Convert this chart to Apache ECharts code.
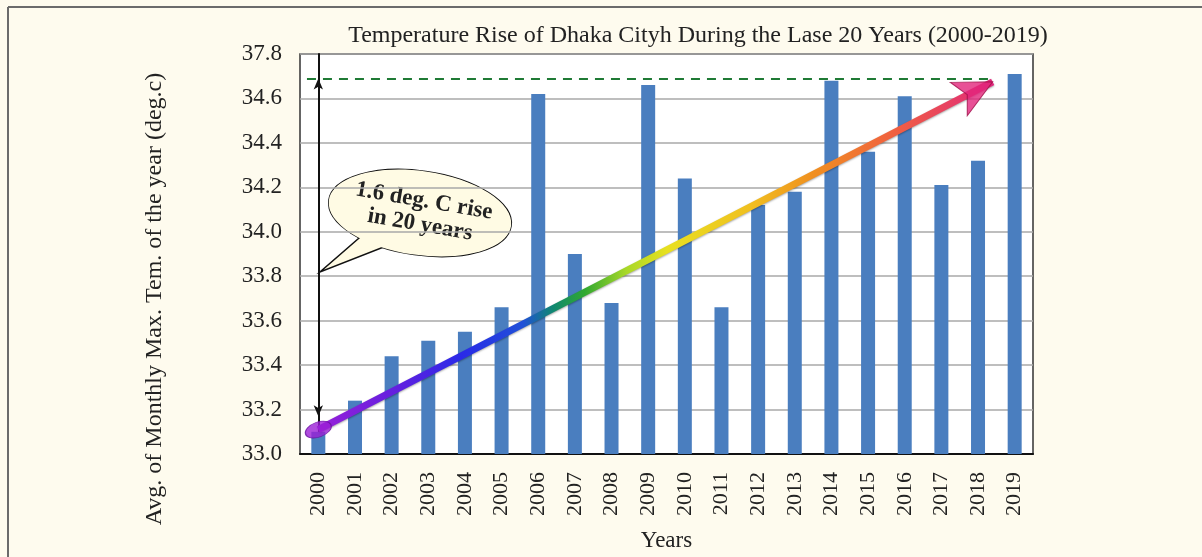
<!DOCTYPE html>
<html>
<head>
<meta charset="utf-8">
<script src="https://cdn.jsdelivr.net/npm/echarts@6/dist/echarts.min.js"></script>
<style>
html,body{margin:0;padding:0;background:#fefbee;overflow:hidden;}
#chart{width:1202px;height:557px;}
</style>
</head>
<body>
<div id="chart"></div>
<script>
const years = ['2000','2001','2002','2003','2004','2005','2006','2007','2008','2009','2010','2011','2012','2013','2014','2015','2016','2017','2018','2019'];
const temps = [33.10,33.24,33.44,33.51,33.55,33.66,34.62,33.90,33.68,34.66,34.24,33.66,34.12,34.18,34.68,34.36,34.61,34.21,34.32,34.71];
const yTickLabels = ['33.0','33.2','33.4','33.6','33.8','34.0','34.2','34.4','34.6','37.8'];
const trendStart = [0, 33.11];
const trendEnd = [18.4, 34.675];
const riseLevel = 34.69;
const riseBottom = 33.17;
const dashedFrom = -0.31;
const dashedTo = 18.46;
const titleText = 'Temperature Rise of Dhaka Cityh During the Lase 20 Years (2000-2019)';
const yName = 'Avg. of Monthly Max. Tem. of the year (deg.c)';
const xName = 'Years';
const bubbleText = '1.6 deg. C rise\nin 20 years';

const FONT = '"Liberation Serif","Times New Roman",serif';
const chart = echarts.init(document.getElementById('chart'));

const rainbow = new echarts.graphic.LinearGradient(0, 0, 1, 0, [
  {offset: 0, color: '#9b20d8'},
  {offset: 0.124, color: '#6020e0'},
  {offset: 0.215, color: '#2a2ae8'},
  {offset: 0.305, color: '#2050d8'},
  {offset: 0.35, color: '#108870'},
  {offset: 0.396, color: '#30a830'},
  {offset: 0.457, color: '#a8d828'},
  {offset: 0.517, color: '#e8e020'},
  {offset: 0.638, color: '#f0c020'},
  {offset: 0.73, color: '#f09020'},
  {offset: 0.85, color: '#f06040'},
  {offset: 1, color: '#e02680'}
]);

chart.setOption({
  animation: false,
  backgroundColor: '#fefbee',
  textStyle: {fontFamily: FONT},
  title: {
    text: titleText,
    left: 693, top: 19, textAlign: 'center',
    textStyle: {fontFamily: FONT, fontSize: 24, fontWeight: 'normal', color: '#222'}
  },
  grid: {
    left: 300, width: 733, top: 54, height: 400,
    outerBoundsMode: 'none', containLabel: false,
    show: true, backgroundColor: '#ffffff', borderColor: '#333', borderWidth: 1.5
  },
  xAxis: [{
    type: 'category', data: years,
    axisLine: {lineStyle: {color: '#111', width: 2}},
    axisTick: {show: false},
    axisLabel: {rotate: 90, margin: 18, fontSize: 22, color: '#222', fontFamily: FONT},
    name: xName, nameLocation: 'middle', nameGap: 75,
    nameTextStyle: {fontSize: 23, color: '#222', fontFamily: FONT}
  }, {
    type: 'value', min: -0.5, max: 19.5, show: false
  }],
  yAxis: {
    type: 'value', min: 33, max: 34.8, interval: 0.2,
    axisLine: {show: true, lineStyle: {color: '#111', width: 2}},
    axisTick: {show: false},
    splitLine: {lineStyle: {color: '#a8a8a8', width: 1.5}},
    axisLabel: {
      margin: 18, fontSize: 23, color: '#222', fontFamily: FONT,
      formatter: function (v) { return yTickLabels[Math.round((v - 33) / 0.2)]; }
    }
  },
  series: [{
    type: 'bar', data: temps, barWidth: 14,
    itemStyle: {color: '#4a7ebf'}
  }, {
    type: 'line', xAxisIndex: 1, data: [trendStart, trendEnd],
    symbol: 'none', z: 5,
    lineStyle: {color: rainbow, width: 7, shadowColor: 'rgba(0,0,0,0.35)', shadowBlur: 2, shadowOffsetY: 1},
    markLine: {
      silent: true, symbol: ['none', 'none'], label: {show: false},
      lineStyle: {color: '#1f7a35', width: 2, type: [9, 7]},
      data: [[{coord: [dashedFrom, riseLevel]}, {coord: [dashedTo, riseLevel]}]]
    }
  }, {
    type: 'line', xAxisIndex: 1, data: [], z: 4,
    markLine: {
      silent: true, symbol: ['arrow', 'arrow'], symbolSize: [7, 11], label: {show: false},
      lineStyle: {color: '#111', width: 1.5, type: 'solid'},
      data: [[{coord: [0, riseBottom]}, {coord: [0, riseLevel]}]]
    }
  }, {
    type: 'scatter', xAxisIndex: 1, z: 6,
    data: [trendEnd], symbol: 'arrow', symbolSize: [28, 38], symbolRotate: -63,
    itemStyle: {color: '#e2267c', borderColor: '#a0104a', borderWidth: 1}
  }, {
    type: 'scatter', xAxisIndex: 1, z: 6,
    data: [trendStart], symbol: 'circle', symbolSize: [27, 15], symbolRotate: 20,
    itemStyle: {color: '#9b1fd6', borderColor: '#6a10a0', borderWidth: 1}
  }],
  graphic: [
    {type: 'line', shape: {x1: 8, y1: 7, x2: 1202, y2: 7}, style: {stroke: '#6b6b6b', lineWidth: 2}},
    {type: 'line', shape: {x1: 8, y1: 7, x2: 8, y2: 557}, style: {stroke: '#6b6b6b', lineWidth: 2}},
    {type: 'text', x: 155, y: 299, rotation: Math.PI / 2,
      style: {text: yName, fill: '#222', font: '24px "Liberation Serif", serif', align: 'center', verticalAlign: 'middle'}},
    {type: 'group', z: 100, children: [
      {type: 'ellipse', shape: {cx: 420, cy: 213, rx: 92, ry: 42}, rotation: -0.14, originX: 420, originY: 213,
        style: {fill: '#fffbe4', stroke: '#111', lineWidth: 1.5}},
      {type: 'polygon', shape: {points: [[366, 232], [320, 272], [394, 243]]},
        style: {fill: '#fffbe4', stroke: '#111', lineWidth: 1.5}},
      {type: 'ellipse', shape: {cx: 420, cy: 213, rx: 92, ry: 42}, rotation: -0.14, originX: 420, originY: 213,
        style: {fill: '#fffbe4', stroke: null}},
      {type: 'text', x: 422, y: 213, rotation: -0.17, originX: 0, originY: 0,
        style: {text: bubbleText, fill: '#222', font: 'bold 23px "Liberation Serif", serif',
          align: 'center', verticalAlign: 'middle', lineHeight: 24}}
    ]}
  ]
});
</script>
</body>
</html>
